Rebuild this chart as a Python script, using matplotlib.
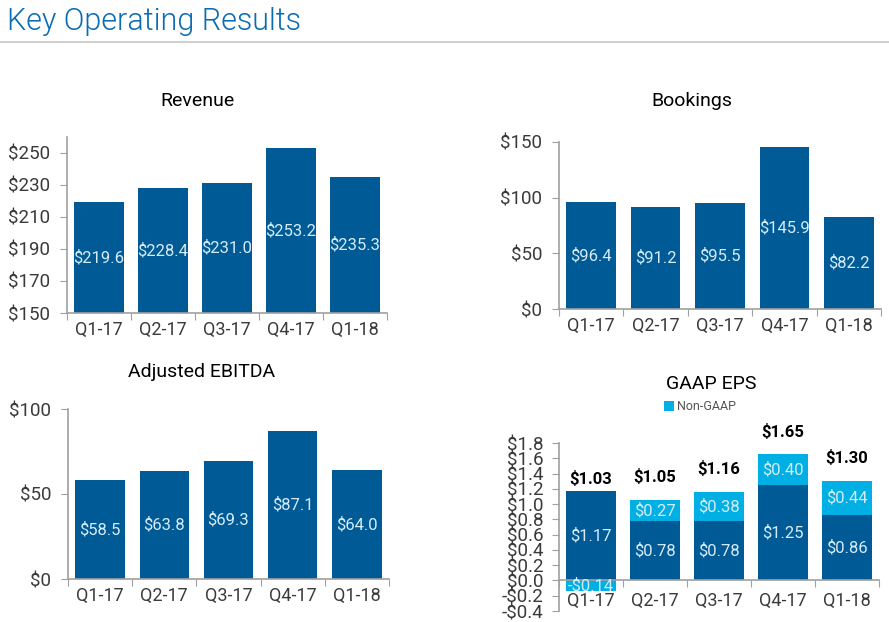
import numpy as np
import matplotlib.pyplot as plt
from matplotlib.ticker import FuncFormatter

plt.rcParams['font.family'] = ['Roboto', 'DejaVu Sans']

quarters = ['Q1-17', 'Q2-17', 'Q3-17', 'Q4-17', 'Q1-18']
revenue = [219.6, 228.4, 231.0, 253.2, 235.3]
bookings = [96.4, 91.2, 95.5, 145.9, 82.2]
ebitda = [58.5, 63.8, 69.3, 87.1, 64.0]
eps_gaap = [1.17, 0.78, 0.78, 1.25, 0.86]
eps_nongaap = [-0.14, 0.27, 0.38, 0.40, 0.44]
eps_total = [1.03, 1.05, 1.16, 1.65, 1.30]

DARK = '#005a96'
LIGHT = '#00afe3'
LABEL = '#d5ecf8'
TICK = '#3a3a3a'
SPINE = '#a0a0a0'
W, H = 889, 622


def px_axes(fig, left, right, top, bottom):
    return fig.add_axes([left / W, 1 - bottom / H, (right - left) / W,
                         (bottom - top) / H])


def px_text(fig, x, y, s, **kw):
    fig.text(x / W, 1 - y / H, s, ha='center', va='center', **kw)


def style(ax, ylim, yticks, fmt):
    ax.set_xlim(-0.5, 4.5)
    ax.set_ylim(*ylim)
    ax.set_yticks(yticks)
    ax.yaxis.set_major_formatter(FuncFormatter(fmt))
    ax.set_xticks(np.arange(-0.5, 5, 1))
    ax.set_xticklabels([])
    ax.set_xticks(np.arange(5), minor=True)
    ax.set_xticklabels(quarters, minor=True)
    ax.tick_params(axis='x', which='minor', length=0, pad=6,
                   labelsize=13, labelcolor=TICK)
    ax.tick_params(axis='x', which='major', length=5, color=SPINE)
    ax.tick_params(axis='y', length=5, color=SPINE, labelsize=13.5,
                   labelcolor=TICK, pad=7)
    for s in ['top', 'right']:
        ax.spines[s].set_visible(False)
    for s in ['left', 'bottom']:
        ax.spines[s].set_color(SPINE)
        ax.spines[s].set_linewidth(1.2)


def simple_bars(ax, vals, base):
    x = np.arange(len(vals))
    ax.bar(x, np.array(vals) - base, bottom=base, width=0.77, color=DARK)
    for xi, v in zip(x, vals):
        ax.text(xi, (v + base) / 2, f'${v:.1f}', ha='center', va='center',
                color=LABEL, fontsize=12)


fig = plt.figure(figsize=(W / 100, H / 100), dpi=100)
fig.text(7 / W, 1 - 21 / H, 'Key Operating Results', fontsize=22,
         color='#0a6cb3', fontweight=300, va='center', ha='left')
fig.add_artist(plt.Line2D([0, 1], [1 - 42 / H, 1 - 42 / H],
                          color='#c8c8c8', lw=1.2))

# Revenue
ax = px_axes(fig, 67, 387, 137, 313)
simple_bars(ax, revenue, 150)
style(ax, (150, 260), np.arange(150, 251, 20), lambda v, p: f'${v:.0f}')
px_text(fig, 198, 101, 'Revenue', fontsize=14)

# Bookings
ax = px_axes(fig, 559, 881, 142, 309)
simple_bars(ax, bookings, 0)
style(ax, (0, 150), [0, 50, 100, 150], lambda v, p: f'${v:.0f}')
px_text(fig, 692, 101, 'Bookings', fontsize=14)

# Adjusted EBITDA
ax = px_axes(fig, 68, 389, 409, 579)
simple_bars(ax, ebitda, 0)
style(ax, (0, 100), [0, 50, 100], lambda v, p: f'${v:.0f}')
px_text(fig, 202, 372, 'Adjusted EBITDA', fontsize=14)

# GAAP EPS
ax = px_axes(fig, 559, 879, 443, 611)
x = np.arange(len(quarters))
g = np.array(eps_gaap)
ng = np.array(eps_nongaap)
ax.bar(x, g, width=0.77, color=DARK)
ng_bottom = np.where(ng < 0, 0, g)
ax.bar(x, ng, bottom=ng_bottom, width=0.77, color=LIGHT,
       label='Non-GAAP')
for xi, gv, nv, nb, tot in zip(x, g, ng, ng_bottom, eps_total):
    ax.text(xi, gv / 2, f'${gv:.2f}', ha='center', va='center',
            color=LABEL, fontsize=12)
    lbl = f'${nv:.2f}' if nv >= 0 else f'-${-nv:.2f}'
    ax.text(xi, nb + nv / 2, lbl, ha='center', va='center',
            color=LABEL, fontsize=12)
    ax.annotate(f'${tot:.2f}', (xi, tot), xytext=(0, 16.5),
                textcoords='offset points', ha='center', va='center',
                fontsize=12, fontweight='bold', color='black')
style(ax, (-0.4, 1.8), np.round(np.arange(-0.4, 1.81, 0.2), 1),
      lambda v, p: f'${v:.1f}' if v >= 0 else f'-${-v:.1f}')
ax.spines['bottom'].set_position(('data', 0))
ax.tick_params(axis='y', labelsize=13.5, pad=6)
ax.tick_params(axis='x', which='minor', pad=8)
px_text(fig, 711, 384, 'GAAP EPS', fontsize=14)
ax.legend(loc='center', bbox_to_anchor=(700 / W, 1 - 407 / H),
          bbox_transform=fig.transFigure, frameon=False,
          fontsize=9, handlelength=0.8, handleheight=0.8, handletextpad=0.3,
          labelcolor='#555555', borderaxespad=0, borderpad=0)

fig.savefig('out.png', dpi=100)
